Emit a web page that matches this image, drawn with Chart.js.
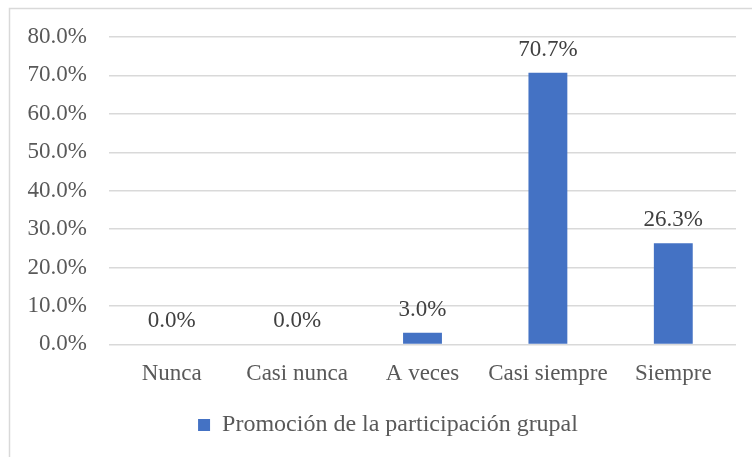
<!DOCTYPE html>
<html>
<head>
<meta charset="utf-8">
<script src="https://cdn.jsdelivr.net/npm/chart.js@4.4.0/dist/chart.umd.min.js"></script>
<style>
  html, body { margin: 0; padding: 0; background: #fff; }
  #wrap { width: 752px; height: 457px; position: relative; }
</style>
</head>
<body>
<div id="wrap"><canvas id="chart" width="752" height="457"></canvas></div>
<script>
// datos
const categorias = ['Nunca', 'Casi nunca', 'A veces', 'Casi siempre', 'Siempre'];
const valores = [0.0, 0.0, 3.0, 70.7, 26.3];
const serieNombre = 'Promoción de la participación grupal';
const yMax = 80;
const yPaso = 10;

const fuente = "'Liberation Serif', 'Times New Roman', serif";

// marco exterior (solo izquierda y arriba se ven)
const marco = {
  id: 'marco',
  beforeDraw(chart) {
    const c = chart.ctx;
    c.save();
    c.strokeStyle = '#d9d9d9';
    c.lineWidth = 1.5;
    c.strokeRect(9.5, 8.5, 800, 500);
    c.restore();
  },
  // la leyenda va centrada en el marco completo, algo a la derecha
  afterLayout(chart) {
    if (chart.legend) chart.legend.left += 40;
  }
};

// etiquetas de valor encima de cada barra
const etiquetas = {
  id: 'etiquetas',
  afterDatasetsDraw(chart) {
    const c = chart.ctx;
    const meta = chart.getDatasetMeta(0);
    c.save();
    c.font = '23px ' + fuente;
    c.fillStyle = '#404040';
    c.textAlign = 'center';
    c.textBaseline = 'alphabetic';
    meta.data.forEach((bar, i) => {
      c.fillText(valores[i].toFixed(1) + '%', bar.x, bar.y - 17);
    });
    c.restore();
  }
};

new Chart(document.getElementById('chart'), {
  type: 'bar',
  data: {
    labels: categorias,
    datasets: [{
      label: serieNombre,
      data: valores,
      backgroundColor: '#4472c4',
      categoryPercentage: 1,
      barPercentage: 0.31
    }]
  },
  options: {
    responsive: false,
    animation: false,
    layout: { padding: { top: 37, right: 16, bottom: 10, left: 0 } },
    plugins: {
      legend: {
        position: 'bottom',
        labels: {
          font: { family: fuente, size: 24 },
          color: '#595959',
          boxWidth: 12,
          boxHeight: 12,
          padding: 10
        }
      },
      tooltip: { enabled: false }
    },
    scales: {
      x: {
        grid: { display: false },
        border: { display: false },
        ticks: {
          font: { family: fuente, size: 23 },
          color: '#595959',
          padding: 8,
          maxRotation: 0
        },
        afterFit(scale) { scale.height += 7; }
      },
      y: {
        min: 0,
        max: yMax,
        ticks: {
          stepSize: yPaso,
          font: { family: fuente, size: 23 },
          color: '#595959',
          padding: 22,
          callback: v => v.toFixed(1) + '%'
        },
        grid: { color: '#d9d9d9', lineWidth: 1.5, drawTicks: false },
        border: { display: false },
        afterFit(scale) { scale.width = 109; }
      }
    }
  },
  plugins: [marco, etiquetas]
});
</script>
</body>
</html>
